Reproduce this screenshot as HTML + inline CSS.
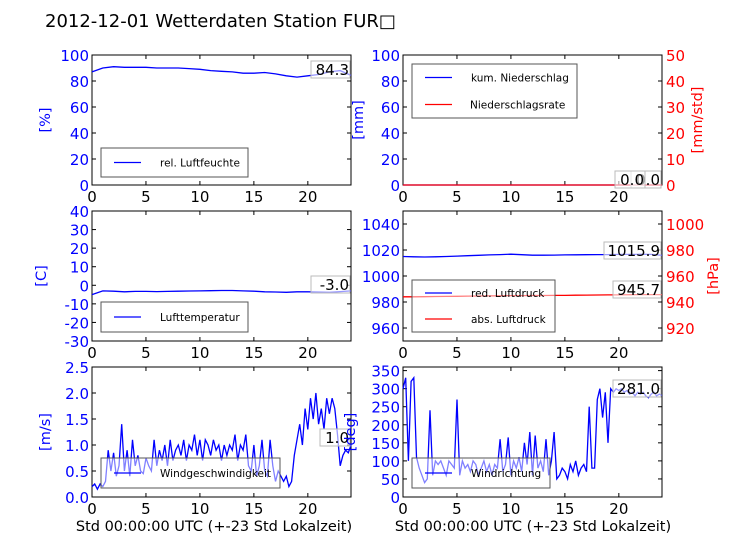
<!DOCTYPE html>
<html><head><meta charset="utf-8"><style>
body{margin:0;background:#fff;}
svg{display:block;font-family:"DejaVu Sans","Liberation Sans",sans-serif;}
</style></head><body>
<svg id="c" width="736" height="552" viewBox="0 0 736 552">
<rect width="736" height="552" fill="#fff"/>
<text x="45" y="27" font-size="18" fill="#000">2012-12-01 Wetterdaten Station FUR□</text>
</svg>
<script>
const hours=[0,1,2,3,4,5,6,7,8,9,10,11,12,13,14,15,16,17,18,19,20,21,22,23,24];
const humidity=[87,90,91,90.5,90.5,90.5,90,90,90,89.5,89,88,87.5,87,86,86,86.5,85.5,84,83,84,85,87,88,84.3];
const temperature=[-5,-3,-3.2,-3.5,-3.3,-3.3,-3.4,-3.3,-3.2,-3.1,-3.0,-2.9,-2.8,-2.8,-3.0,-3.2,-3.5,-3.6,-3.8,-3.5,-3.5,-3.6,-3.8,-3.4,-3.0];
const precipSum=[0,0,0,0,0,0,0,0,0,0,0,0,0,0,0,0,0,0,0,0,0,0,0,0,0];
const precipRate=[0,0,0,0,0,0,0,0,0,0,0,0,0,0,0,0,0,0,0,0,0,0,0,0,0];
const pressRed=[1015,1014.8,1014.6,1014.8,1015,1015.3,1015.6,1015.9,1016.2,1016.5,1016.8,1016.4,1016,1016,1016.1,1016.2,1016.3,1016.4,1016.5,1016.5,1016.6,1016.6,1016.7,1016.6,1015.9];
const pressAbs=[944,944,944.1,944.2,944.3,944.4,944.5,944.6,944.7,944.8,944.9,944.9,945,945,945.1,945.1,945.2,945.3,945.4,945.5,945.5,945.6,945.7,945.7,945.7];
const wind=[0.2,0.25,0.15,0.25,0.2,0.3,0.9,0.5,0.85,0.4,0.6,1.4,0.5,0.9,0.4,1.1,0.6,0.8,0.5,0.45,0.75,0.6,0.5,1.1,0.6,0.9,0.7,1.0,0.6,1.1,0.7,0.9,1.0,0.8,1.1,0.7,1.0,0.9,1.2,0.8,1.1,0.7,1.1,1.0,0.8,1.1,0.9,1.0,0.7,1.0,0.8,1.0,0.9,1.2,0.7,1.0,0.9,1.2,0.6,0.5,1.0,0.4,0.6,1.1,0.5,0.4,1.1,0.6,0.3,0.5,0.4,0.3,0.4,0.2,0.3,0.8,1.1,1.4,1.0,1.7,1.3,1.9,1.5,2.0,1.4,1.7,1.3,1.9,1.6,1.9,1.7,1.2,0.6,0.8,0.9,0.85,1.0];
const winddir=[300,330,100,320,330,110,80,60,40,50,240,60,100,90,100,80,60,100,90,80,270,60,100,80,90,70,100,90,60,80,100,70,90,60,90,80,160,70,90,165,60,100,80,110,70,150,90,180,60,170,80,100,70,160,60,100,180,50,60,80,70,50,90,70,100,60,80,90,70,250,80,80,270,300,220,290,150,300,290,300,295,300,290,295,285,290,280,290,285,290,280,275,285,290,280,285,281];
const xTicks=[0,5,10,15,20];
const windTicks=[0,0.5,1,1.5,2,2.5];

const NS='http://www.w3.org/2000/svg';
const svg=document.getElementById('c');
function el(tag,attrs,parent){const e=document.createElementNS(NS,tag);for(const k in attrs)e.setAttribute(k,attrs[k]);(parent||svg).appendChild(e);return e;}
function txt(s,attrs){const e=el('text',attrs);e.textContent=s;return e;}

function panel(name,x0,y0,x1,y1,ymin,ymax,yticks,ycol,ylabel,opt){
  const g=el('g',{});
  
  
  const fmt=opt.fmt||(v=>String(v));
  const sx=v=>x0+(v/24)*(x1-x0);
  const sy=v=>y1-(v-ymin)/(ymax-ymin)*(y1-y0);
  el('rect',{x:x0,y:y0,width:x1-x0,height:y1-y0,fill:'#fff',stroke:'none'},g);
  for(const t of xTicks){
    const x=sx(t);
    el('line',{x1:x,y1:y1,x2:x,y2:y1-4,stroke:'#000'},g);
    el('line',{x1:x,y1:y0,x2:x,y2:y0+4,stroke:'#000'},g);
    const l=txt(String(t),{x:x,y:y1+17,'font-size':15,'text-anchor':'middle',fill:'#000'});
    
    
  }
  for(const t of yticks){
    const y=sy(t);
    el('line',{x1:x0,y1:y,x2:x0+4,y2:y,stroke:'#000'},g);
    if(!opt.right) el('line',{x1:x1,y1:y,x2:x1-4,y2:y,stroke:'#000'},g);
    const l=txt(fmt(t),{x:x0-3,y:y+6,'font-size':15,'text-anchor':'end',fill:ycol});
    
    
  }
  if(ylabel){
    const yl=txt(ylabel,{x:0,y:0,'font-size':14.5,'text-anchor':'middle',fill:ycol,transform:`translate(${x0-opt.lab},${(y0+y1)/2}) rotate(-90)`});
    
    
  }
  let sy2=null;
  if(opt.right){
    const r=opt.right;
    sy2=v=>y1-(v-r.min)/(r.max-r.min)*(y1-y0);
    for(const t of r.ticks){
      const y=sy2(t);
      el('line',{x1:x1,y1:y,x2:x1-4,y2:y,stroke:'#000'},g);
      const l=txt(String(t),{x:x1+4,y:y+6,'font-size':15,fill:'#f00'});
      
      
    }
    const l2=txt(r.label,{x:0,y:0,'font-size':14.5,'text-anchor':'middle',fill:'#f00',transform:`translate(${x1+r.lab},${(y0+y1)/2}) rotate(-90)`});
    
    
  }
  el('rect',{x:x0,y:y0,width:x1-x0,height:y1-y0,fill:'none',stroke:'#000'},g);
  return {sx,sy,sy2,g};
}
function line(p,vals,scale,col,name){
  const pts=vals.map((v,i)=>p.sx(i*24/(vals.length-1)).toFixed(1)+','+scale(v).toFixed(1)).join(' ');
  const e=el('polyline',{points:pts,fill:'none',stroke:col,'stroke-width':1.3});
  
  
}
function legend(name,x,y,w,h,items){
  const r=el('rect',{x:x,y:y,width:w,height:h,fill:'rgba(255,255,255,0.5)',stroke:'#555','stroke-width':1});
  
  
  const dy=h/items.length;
  items.forEach((it,i)=>{
    const cy=y+dy*(i+0.5);
    el('line',{x1:x+13,y1:cy,x2:x+40,y2:cy,stroke:it[1],'stroke-width':1.3});
    const t=txt(it[0],{x:it[2]||x+58,y:cy+4,'font-size':10.5,fill:'#000'});
    
    
  });
}
function valbox(s,xr,y){
  const w=s.length*9+3;
  el('rect',{x:xr-w,y:y-14,width:w,height:17,fill:'rgba(255,255,255,0.6)',stroke:'#bbb'});
  const t=txt(s,{x:xr-1,y:y,'font-size':15,'text-anchor':'end',fill:'#000'});
  
  
}

let p=panel('humidity-panel',92,55,351,185,0,100,[0,20,40,60,80,100],'#00f','[%]',{lab:42});
line(p,humidity,p.sy,'#00f','humidity-line');
legend('humidity-legend',101,148,147,29,[['rel. Luftfeuchte','#00f',160]]);
valbox('84.3',350,75);

p=panel('precip-panel',403,55,662,185,0,100,[0,20,40,60,80,100],'#00f','[mm]',{lab:40,right:{min:0,max:50,ticks:[0,10,20,30,40,50],label:'[mm/std]',lab:40}});
line(p,precipSum,p.sy,'#00f','precip-sum-line');
line(p,precipRate,p.sy2,'#f00','precip-rate-line');
legend('precip-legend',412,64,165,54,[['kum. Niederschlag','#00f',471],['Niederschlagsrate','#f00',470]]);
valbox('0.0',661,185);
valbox('0.0',645,185);

p=panel('temperature-panel',92,211,351,341,-30,40,[-30,-20,-10,0,10,20,30,40],'#00f','[C]',{lab:46});
line(p,temperature,p.sy,'#00f','temperature-line');
legend('temperature-legend',101,302,147,30,[['Lufttemperatur','#00f',160]]);
valbox('-3.0',350,290);

p=panel('pressure-panel',403,211,662,341,950,1050,[960,980,1000,1020,1040],'#00f','',{lab:40,right:{min:910,max:1010,ticks:[920,940,960,980,1000],label:'[hPa]',lab:56}});
line(p,pressRed,p.sy,'#00f','reduced-pressure-line');
line(p,pressAbs,p.sy2,'#f00','absolute-pressure-line');
legend('pressure-legend',412,280,143,52,[['red. Luftdruck','#00f',471],['abs. Luftdruck','#f00',471]]);
valbox('1015.9',661,256);
valbox('945.7',661,295);

p=panel('wind-speed-panel',92,367,351,497,0,2.5,windTicks,'#00f','[m/s]',{lab:42,fmt:v=>v.toFixed(1)});
line(p,wind,p.sy,'#00f','wind-speed-line');
legend('wind-speed-legend',101,458,179,30,[['Windgeschwindigkeit','#00f',160]]);
valbox('1.0',350,443);

p=panel('wind-direction-panel',403,367,662,497,0,360,[0,50,100,150,200,250,300,350],'#00f','[deg]',{lab:48});
line(p,winddir,p.sy,'#00f','wind-direction-line');
legend('wind-direction-legend',412,458,138,30,[['Windrichtung','#00f',471]]);
valbox('281.0',661,394);

const xl1=txt('Std 00:00:00 UTC (+-23 Std Lokalzeit)',{x:214,y:531,'font-size':14.5,'text-anchor':'middle',fill:'#000'});


const xl2=txt('Std 00:00:00 UTC (+-23 Std Lokalzeit)',{x:533,y:531,'font-size':14.5,'text-anchor':'middle',fill:'#000'});


</script>
</body></html>
